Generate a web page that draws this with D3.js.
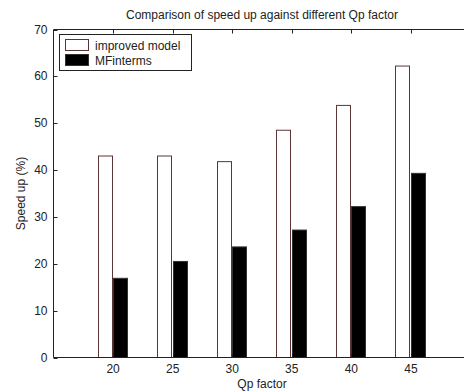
<!DOCTYPE html>
<html lang="en">
<head>
  <meta charset="UTF-8">
  <title>Comparison of speed up against different Qp factor</title>
  <script src="https://d3js.org/d3.v7.min.js"></script>
  <style>
    body { margin: 0; background: #fff; }
    svg text { font-family: "Liberation Sans", Arial, sans-serif; fill: #222; }
  </style>
</head>
<body>
<svg id="chart" width="464" height="392"></svg>
<script>
  // Chart data
  const qpFactors = [20, 25, 30, 35, 40, 45];
  const improvedModel = [43.0, 43.0, 41.8, 48.5, 53.8, 62.2];
  const mfInterms = [16.9, 20.5, 23.6, 27.2, 32.2, 39.3];
  const yTicks = [0, 10, 20, 30, 40, 50, 60, 70];
  const seriesNames = ["improved model", "MFinterms"];

  const svg = d3.select("#chart");
  const plotL = 53.5, plotR = 470.5, plotT = 29.5, plotB = 357.5;
  const fs = 12;

  const x = d3.scaleLinear().domain([15, 50]).range([plotL, plotR]);
  const y = d3.scaleLinear().domain([0, 70]).range([plotB, plotT]);

  svg.append("rect").attr("width", 464).attr("height", 392).attr("fill", "#fff");

  // Bars
  const step = x(25) - x(20);
  const bw = step * 0.235;

  svg.append("g").selectAll("rect")
    .data(qpFactors)
    .join("rect")
    .attr("x", (d, i) => Math.round(x(d) - bw - 1.5) + 0.5)
    .attr("y", (d, i) => y(improvedModel[i]))
    .attr("width", bw)
    .attr("height", (d, i) => plotB - y(improvedModel[i]))
    .attr("fill", "#fff")
    .attr("stroke", "#5a3535")
    .attr("stroke-width", 1);

  svg.append("g").selectAll("rect")
    .data(qpFactors)
    .join("rect")
    .attr("x", d => Math.round(x(d)) + 0.5)
    .attr("y", (d, i) => y(mfInterms[i]))
    .attr("width", bw)
    .attr("height", (d, i) => plotB - y(mfInterms[i]))
    .attr("fill", "#000")
    .attr("stroke", "#333")
    .attr("stroke-width", 1);

  // Axes box
  const axis = svg.append("g").attr("stroke", "#222").attr("stroke-width", 1).attr("fill", "none");
  axis.append("path").attr("d", `M${plotL},${plotT}H${plotR}V${plotB}H${plotL}Z`);

  // y ticks (inward)
  axis.selectAll(".yt").data(yTicks).join("path")
    .attr("d", d => `M${plotL},${Math.round(y(d)) + 0.5}h4`);

  // x ticks (inward, top and bottom)
  axis.selectAll(".xt").data(qpFactors).join("path")
    .attr("d", d => {
      const px = Math.round(x(d)) + 0.5;
      return `M${px},${plotT}v4M${px},${plotB}v-4`;
    });

  // Tick labels
  svg.append("g").selectAll("text").data(yTicks).join("text")
    .attr("x", plotL - 6)
    .attr("y", d => y(d) + 4)
    .attr("text-anchor", "end")
    .attr("font-size", fs)
    .text(d => d);

  svg.append("g").selectAll("text").data(qpFactors).join("text")
    .attr("x", d => x(d))
    .attr("y", plotB + 15)
    .attr("text-anchor", "middle")
    .attr("font-size", fs)
    .text(d => d);

  // Title and axis labels
  svg.append("text")
    .attr("x", (plotL + plotR) / 2)
    .attr("y", 19)
    .attr("text-anchor", "middle")
    .attr("font-size", fs)
    .text("Comparison of speed up against different Qp factor");

  svg.append("text")
    .attr("x", (plotL + plotR) / 2)
    .attr("y", 388)
    .attr("text-anchor", "middle")
    .attr("font-size", fs)
    .text("Qp factor");

  svg.append("text")
    .attr("transform", `translate(25,${(plotT + plotB) / 2}) rotate(-90)`)
    .attr("text-anchor", "middle")
    .attr("font-size", fs)
    .text("Speed up (%)");

  // Legend
  const legend = svg.append("g");
  legend.append("rect")
    .attr("x", 59.5).attr("y", 34.5).attr("width", 132).attr("height", 36)
    .attr("fill", "#fff").attr("stroke", "#222");
  const swatchFill = ["#fff", "#000"];
  const swatchStroke = ["#5a3535", "#333"];
  seriesNames.forEach((name, i) => {
    legend.append("rect")
      .attr("x", 65.5).attr("y", 39.5 + i * 15).attr("width", 23).attr("height", 11)
      .attr("fill", swatchFill[i]).attr("stroke", swatchStroke[i]);
    legend.append("text")
      .attr("x", 95).attr("y", 49.5 + i * 15)
      .attr("font-size", fs)
      .text(name);
  });
</script>
</body>
</html>
